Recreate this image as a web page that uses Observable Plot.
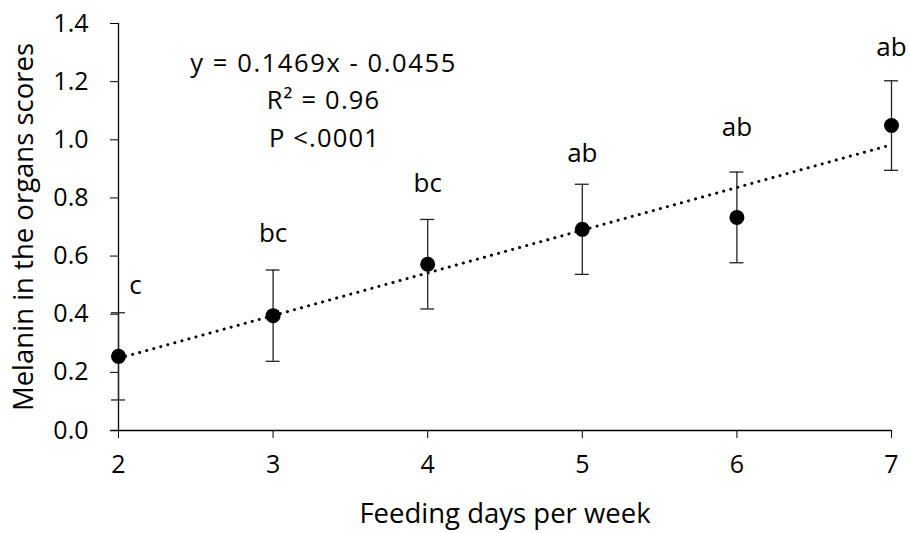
<!DOCTYPE html>
<html>
<head>
<meta charset="utf-8">
<script src="https://cdn.jsdelivr.net/npm/d3@7"></script>
<script src="https://cdn.jsdelivr.net/npm/@observablehq/plot@0.6"></script>
<style>
  html, body { margin: 0; padding: 0; background: #fff; }
  #chart svg { display: block; }
</style>
</head>
<body>
<div id="chart"></div>
<script>
// Data
const days = [2, 3, 4, 5, 6, 7];
const means = [0.255, 0.395, 0.572, 0.692, 0.733, 1.049];
const se = [0.150, 0.157, 0.154, 0.155, 0.156, 0.154];
const letters = ["c", "bc", "bc", "ab", "ab", "ab"];
const letterY = [0.498, 0.677, 0.849, 0.953, 1.042, 1.318];
const yTicks = [0, 0.2, 0.4, 0.6, 0.8, 1.0, 1.2, 1.4];
const xTicks = [2, 3, 4, 5, 6, 7];
const slope = [0.1469];
const intercept = [-0.0455];
const annotations = ["y = 0.1469x - 0.0455", "R² = 0.96", "P <.0001"];
const xLabel = "Feeding days per week";
const yLabel = "Melanin in the organs scores";

const rows = days.map((d, i) => ({day: d, mean: means[i], lo: means[i] - se[i], hi: means[i] + se[i], letter: letters[i], ly: letterY[i]}));
const trend = [days[0], days[days.length - 1]].map(x => ({x, y: slope[0] * x + intercept[0]}));

const font = "'Open Sans', sans-serif";

const chart = Plot.plot({
  width: 909,
  height: 533,
  marginLeft: 118,
  marginRight: 18,
  marginTop: 23,
  marginBottom: 103,
  style: {fontFamily: font, fontSize: "25px", color: "#000", background: "#fff"},
  x: {domain: [2, 7]},
  y: {domain: [0, 1.4]},
  marks: [
    Plot.axisY({ticks: yTicks, tickFormat: d3.format(".1f"), tickSize: 8, tickPadding: 22, label: null, fontSize: 25, stroke: "#000"}),
    Plot.axisX({ticks: xTicks, tickFormat: d3.format("d"), tickSize: 8, tickPadding: 17, label: null, fontSize: 25, stroke: "#000"}),
    Plot.ruleY([0], {x1: 2, x2: 7, stroke: "#000", strokeWidth: 1.3, insetLeft: -8}),
    Plot.ruleX([2], {y1: 0, y2: 1.4, stroke: "#000", strokeWidth: 1.3}),
    Plot.line(trend, {x: "x", y: "y", stroke: "#000", strokeWidth: 3, strokeDasharray: "0.1,7.2", strokeLinecap: "round"}),
    Plot.ruleX(rows, {x: "day", y1: "lo", y2: "hi", stroke: "#222", strokeWidth: 1.3}),
    Plot.ruleY(rows, {y: "hi", x1: "day", x2: "day", insetLeft: -7, insetRight: -7, stroke: "#222", strokeWidth: 1.3}),
    Plot.ruleY(rows, {y: "lo", x1: "day", x2: "day", insetLeft: -7, insetRight: -7, stroke: "#222", strokeWidth: 1.3}),
    Plot.dot(rows, {x: "day", y: "mean", r: 7.5, fill: "#000"}),
    Plot.text(rows, {x: "day", y: "ly", text: "letter", fontSize: 26, filter: d => d.day !== 2}),
    Plot.text(rows, {x: "day", y: "ly", text: "letter", fontSize: 26, dx: 17, filter: d => d.day === 2}),
    Plot.text([annotations[0]], {frameAnchor: "top-left", lineAnchor: "middle", text: d => d, dx: 205, dy: 40, fontSize: 25.5, textAnchor: "middle"}),
    Plot.text([annotations[1]], {frameAnchor: "top-left", lineAnchor: "middle", text: d => d, dx: 205, dy: 77, fontSize: 25.5, textAnchor: "middle"}),
    Plot.text([annotations[2]], {frameAnchor: "top-left", lineAnchor: "middle", text: d => d, dx: 206, dy: 115, fontSize: 25.5, textAnchor: "middle"}),
    Plot.text([xLabel], {frameAnchor: "bottom", text: d => d, dy: 92, fontSize: 27.5}),
    Plot.text([yLabel], {frameAnchor: "left", text: d => d, dx: -94, rotate: -90, fontSize: 27.5, textAnchor: "middle"})
  ]
});
// Widen the equation block's tracking to match the reference's text width
d3.select(chart).selectAll("text")
  .filter(function() { return annotations.includes(this.textContent); })
  .style("letter-spacing", function() { return this.textContent === annotations[0] ? "1.6px" : "1.2px"; });
document.getElementById("chart").appendChild(chart);
</script>
</body>
</html>
